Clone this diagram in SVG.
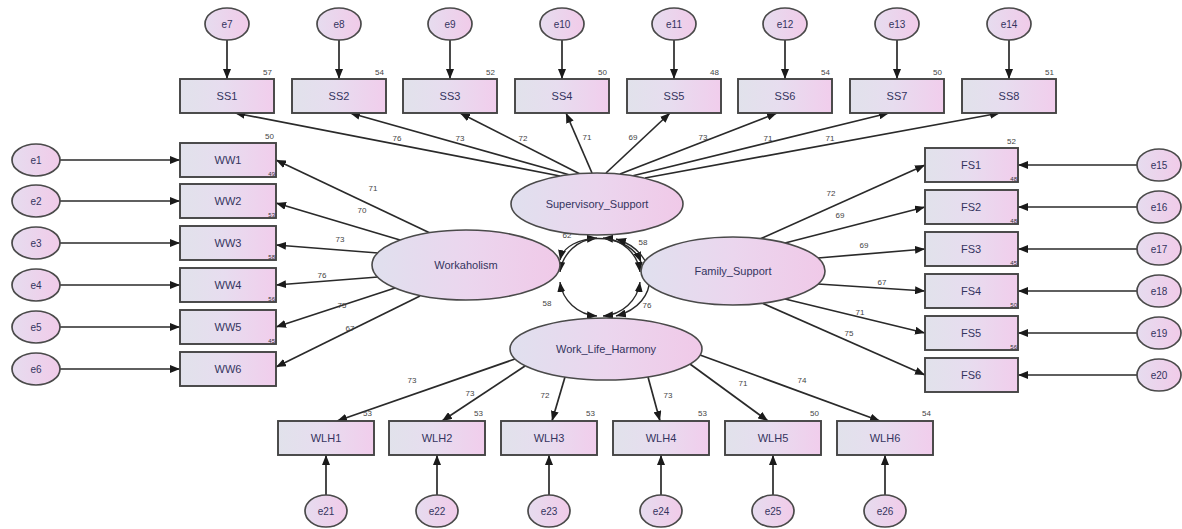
<svg xmlns="http://www.w3.org/2000/svg" width="1182" height="529" viewBox="0 0 1182 529">
<defs>
<linearGradient id="gbox" x1="0" y1="0" x2="1" y2="0">
<stop offset="0" stop-color="#e1e2eb"/><stop offset="0.45" stop-color="#e7ddef"/><stop offset="1" stop-color="#f1cdec"/>
</linearGradient>
<linearGradient id="gell" x1="0" y1="0" x2="1" y2="0">
<stop offset="0" stop-color="#e0e0ee"/><stop offset="0.5" stop-color="#ebd6ee"/><stop offset="1" stop-color="#f0c9e8"/>
</linearGradient>
<linearGradient id="gerr" x1="0" y1="0" x2="1" y2="0">
<stop offset="0" stop-color="#e6dcef"/><stop offset="1" stop-color="#f1cbe9"/>
</linearGradient>
<marker id="ah" viewBox="0 0 10 8" refX="10" refY="4" markerWidth="10" markerHeight="8" markerUnits="userSpaceOnUse" orient="auto-start-reverse">
<path d="M0,0 L10,4 L0,8 z" fill="#1a1a1a"/>
</marker>
</defs>
<style>
.box{fill:url(#gbox);stroke:#444;stroke-width:1.9}
.lat{fill:url(#gell);stroke:#4a4a4a;stroke-width:1.6}
.err{fill:url(#gerr);stroke:#4a4a4a;stroke-width:1.7}
.ln{stroke:#2a2a2a;stroke-width:1.7;fill:none;marker-end:url(#ah)}
.cv{stroke:#2a2a2a;stroke-width:1.4;fill:none;marker-end:url(#ah);marker-start:url(#ah)}
.t{font-family:"Liberation Sans",Arial,sans-serif;font-size:11px;fill:#34345e;text-anchor:middle;dominant-baseline:central}
.te{font-family:"Liberation Sans",Arial,sans-serif;font-size:10px;fill:#34345e;text-anchor:middle;dominant-baseline:central}
.n{font-family:"Liberation Sans",Arial,sans-serif;font-size:8px;fill:#444;text-anchor:middle;dominant-baseline:central}
.r{font-family:"Liberation Sans",Arial,sans-serif;font-size:8px;fill:#444;text-anchor:end}
.rs{font-family:"Liberation Sans",Arial,sans-serif;font-size:6px;fill:#333;text-anchor:end}
</style>
<rect width="1182" height="529" fill="#ffffff"/>

<g id="connectors">
<line class="ln" x1="227" y1="40" x2="227" y2="79"/>
<line class="ln" x1="339" y1="40" x2="339" y2="79"/>
<line class="ln" x1="450" y1="40" x2="450" y2="79"/>
<line class="ln" x1="562" y1="40" x2="562" y2="79"/>
<line class="ln" x1="674" y1="40" x2="674" y2="79"/>
<line class="ln" x1="785" y1="40" x2="785" y2="79"/>
<line class="ln" x1="897" y1="40" x2="897" y2="79"/>
<line class="ln" x1="1009" y1="40" x2="1009" y2="79"/>
<line class="ln" x1="60" y1="160" x2="180" y2="160"/>
<line class="ln" x1="60" y1="201" x2="180" y2="201"/>
<line class="ln" x1="60" y1="243" x2="180" y2="243"/>
<line class="ln" x1="60" y1="285" x2="180" y2="285"/>
<line class="ln" x1="60" y1="327" x2="180" y2="327"/>
<line class="ln" x1="60" y1="369" x2="180" y2="369"/>
<line class="ln" x1="1137" y1="165" x2="1018" y2="165"/>
<line class="ln" x1="1137" y1="207" x2="1018" y2="207"/>
<line class="ln" x1="1137" y1="249" x2="1018" y2="249"/>
<line class="ln" x1="1137" y1="291" x2="1018" y2="291"/>
<line class="ln" x1="1137" y1="333" x2="1018" y2="333"/>
<line class="ln" x1="1137" y1="375" x2="1018" y2="375"/>
<line class="ln" x1="326" y1="495" x2="326" y2="455"/>
<line class="ln" x1="437" y1="495" x2="437" y2="455"/>
<line class="ln" x1="549" y1="495" x2="549" y2="455"/>
<line class="ln" x1="661" y1="495" x2="661" y2="455"/>
<line class="ln" x1="773" y1="495" x2="773" y2="455"/>
<line class="ln" x1="885" y1="495" x2="885" y2="455"/>
<line class="ln" x1="560" y1="176" x2="235" y2="113"/>
<line class="ln" x1="570" y1="175" x2="350" y2="113"/>
<line class="ln" x1="580" y1="174" x2="460" y2="113"/>
<line class="ln" x1="592" y1="173" x2="566" y2="113"/>
<line class="ln" x1="606" y1="173" x2="670" y2="113"/>
<line class="ln" x1="620" y1="174" x2="777" y2="113"/>
<line class="ln" x1="632" y1="176" x2="889" y2="113"/>
<line class="ln" x1="645" y1="178" x2="1000" y2="113"/>
<line class="ln" x1="430" y1="233" x2="276" y2="160"/>
<line class="ln" x1="400" y1="240" x2="276" y2="203"/>
<line class="ln" x1="378" y1="253" x2="276" y2="245"/>
<line class="ln" x1="378" y1="277" x2="276" y2="285"/>
<line class="ln" x1="395" y1="288" x2="276" y2="327"/>
<line class="ln" x1="420" y1="296" x2="276" y2="367"/>
<line class="ln" x1="760" y1="239" x2="925" y2="165"/>
<line class="ln" x1="785" y1="243" x2="925" y2="207"/>
<line class="ln" x1="818" y1="258" x2="925" y2="249"/>
<line class="ln" x1="818" y1="284" x2="925" y2="291"/>
<line class="ln" x1="785" y1="299" x2="925" y2="333"/>
<line class="ln" x1="762" y1="303" x2="925" y2="375"/>
<line class="ln" x1="515" y1="359" x2="337" y2="421"/>
<line class="ln" x1="525" y1="366" x2="442" y2="421"/>
<line class="ln" x1="565" y1="377" x2="552" y2="421"/>
<line class="ln" x1="648" y1="377" x2="660" y2="421"/>
<line class="ln" x1="690" y1="364" x2="768" y2="421"/>
<line class="ln" x1="700" y1="355" x2="880" y2="421"/>
<!-- covariances -->
<path class="cv" d="M560,272 A40,39 0 0 1 597,238"/>
<path class="cv" d="M603,238 A40,39 0 0 1 640,272"/>
<path class="cv" d="M640,282 A40,39 0 0 1 603,316"/>
<path class="cv" d="M597,316 A40,39 0 0 1 560,282"/>
<path class="cv" d="M560,260 C566,232 628,230 641,262"/>
<path class="cv" d="M616,239 C660,252 662,304 616,316"/>
<text class="n" x="567" y="235">62</text>
<text class="n" x="643" y="242">58</text>
<text class="n" x="547" y="303">58</text>
<text class="n" x="647" y="305">76</text>
<text class="n" x="397" y="138">76</text>
<text class="n" x="460" y="138">73</text>
<text class="n" x="523" y="138">72</text>
<text class="n" x="587" y="137">71</text>
<text class="n" x="633" y="137">69</text>
<text class="n" x="703" y="137">73</text>
<text class="n" x="768" y="138">71</text>
<text class="n" x="830" y="138">71</text>
<text class="n" x="373" y="188">71</text>
<text class="n" x="362" y="210">70</text>
<text class="n" x="340" y="239">73</text>
<text class="n" x="322" y="275">76</text>
<text class="n" x="342" y="305">75</text>
<text class="n" x="350" y="328">67</text>
<text class="n" x="831" y="193">72</text>
<text class="n" x="840" y="215">69</text>
<text class="n" x="864" y="245">69</text>
<text class="n" x="882" y="282">67</text>
<text class="n" x="860" y="312">71</text>
<text class="n" x="849" y="333">75</text>
<text class="n" x="412" y="380">73</text>
<text class="n" x="470" y="393">73</text>
<text class="n" x="545" y="395">72</text>
<text class="n" x="668" y="395">73</text>
<text class="n" x="743" y="383">71</text>
<text class="n" x="802" y="380">74</text>
</g>

<g id="latent-supervisory"><ellipse class="lat" cx="597" cy="204" rx="86" ry="31"/><text class="t" x="597" y="204">Supervisory_Support</text></g>
<g id="latent-workaholism"><ellipse class="lat" cx="466" cy="265" rx="94" ry="35"/><text class="t" x="466" y="265">Workaholism</text></g>
<g id="latent-family"><ellipse class="lat" cx="733" cy="271" rx="92" ry="34"/><text class="t" x="733" y="271">Family_Support</text></g>
<g id="latent-wlh"><ellipse class="lat" cx="606" cy="349" rx="96" ry="31"/><text class="t" x="606" y="349">Work_Life_Harmony</text></g>

<g id="SS1"><rect class="box" x="180" y="79" width="94" height="34"/><text class="t" x="227" y="96">SS1</text><text class="r" x="272" y="75">57</text></g>
<g id="SS2"><rect class="box" x="292" y="79" width="94" height="34"/><text class="t" x="339" y="96">SS2</text><text class="r" x="384" y="75">54</text></g>
<g id="SS3"><rect class="box" x="403" y="79" width="94" height="34"/><text class="t" x="450" y="96">SS3</text><text class="r" x="495" y="75">52</text></g>
<g id="SS4"><rect class="box" x="515" y="79" width="94" height="34"/><text class="t" x="562" y="96">SS4</text><text class="r" x="607" y="75">50</text></g>
<g id="SS5"><rect class="box" x="627" y="79" width="94" height="34"/><text class="t" x="674" y="96">SS5</text><text class="r" x="719" y="75">48</text></g>
<g id="SS6"><rect class="box" x="738" y="79" width="94" height="34"/><text class="t" x="785" y="96">SS6</text><text class="r" x="830" y="75">54</text></g>
<g id="SS7"><rect class="box" x="850" y="79" width="94" height="34"/><text class="t" x="897" y="96">SS7</text><text class="r" x="942" y="75">50</text></g>
<g id="SS8"><rect class="box" x="962" y="79" width="94" height="34"/><text class="t" x="1009" y="96">SS8</text><text class="r" x="1054" y="75">51</text></g>

<g id="WW1"><rect class="box" x="180" y="143" width="96" height="34"/><text class="t" x="228" y="160">WW1</text><text class="r" x="274" y="139">50</text><text class="rs" x="275" y="176">49</text></g>
<g id="WW2"><rect class="box" x="180" y="184" width="96" height="34"/><text class="t" x="228" y="201">WW2</text><text class="rs" x="275" y="217">53</text></g>
<g id="WW3"><rect class="box" x="180" y="226" width="96" height="34"/><text class="t" x="228" y="243">WW3</text><text class="rs" x="275" y="259">58</text></g>
<g id="WW4"><rect class="box" x="180" y="268" width="96" height="34"/><text class="t" x="228" y="285">WW4</text><text class="rs" x="275" y="301">56</text></g>
<g id="WW5"><rect class="box" x="180" y="310" width="96" height="34"/><text class="t" x="228" y="327">WW5</text><text class="rs" x="275" y="343">45</text></g>
<g id="WW6"><rect class="box" x="180" y="352" width="96" height="34"/><text class="t" x="228" y="369">WW6</text></g>

<g id="FS1"><rect class="box" x="925" y="148" width="93" height="34"/><text class="t" x="971" y="165">FS1</text><text class="r" x="1016" y="144">52</text><text class="rs" x="1017" y="181">48</text></g>
<g id="FS2"><rect class="box" x="925" y="190" width="93" height="34"/><text class="t" x="971" y="207">FS2</text><text class="rs" x="1017" y="223">48</text></g>
<g id="FS3"><rect class="box" x="925" y="232" width="93" height="34"/><text class="t" x="971" y="249">FS3</text><text class="rs" x="1017" y="265">45</text></g>
<g id="FS4"><rect class="box" x="925" y="274" width="93" height="34"/><text class="t" x="971" y="291">FS4</text><text class="rs" x="1017" y="307">50</text></g>
<g id="FS5"><rect class="box" x="925" y="316" width="93" height="34"/><text class="t" x="971" y="333">FS5</text><text class="rs" x="1017" y="349">56</text></g>
<g id="FS6"><rect class="box" x="925" y="358" width="93" height="34"/><text class="t" x="971" y="375">FS6</text></g>

<g id="WLH1"><rect class="box" x="278" y="421" width="96" height="34"/><text class="t" x="326" y="438">WLH1</text><text class="r" x="372" y="416">53</text></g>
<g id="WLH2"><rect class="box" x="389" y="421" width="96" height="34"/><text class="t" x="437" y="438">WLH2</text><text class="r" x="483" y="416">53</text></g>
<g id="WLH3"><rect class="box" x="501" y="421" width="96" height="34"/><text class="t" x="549" y="438">WLH3</text><text class="r" x="595" y="416">53</text></g>
<g id="WLH4"><rect class="box" x="613" y="421" width="96" height="34"/><text class="t" x="661" y="438">WLH4</text><text class="r" x="707" y="416">53</text></g>
<g id="WLH5"><rect class="box" x="725" y="421" width="96" height="34"/><text class="t" x="773" y="438">WLH5</text><text class="r" x="819" y="416">50</text></g>
<g id="WLH6"><rect class="box" x="837" y="421" width="96" height="34"/><text class="t" x="885" y="438">WLH6</text><text class="r" x="931" y="416">54</text></g>

<g id="e7"><ellipse class="err" cx="227" cy="24" rx="22" ry="16"/><text class="te" x="227" y="24">e7</text></g>
<g id="e8"><ellipse class="err" cx="339" cy="24" rx="22" ry="16"/><text class="te" x="339" y="24">e8</text></g>
<g id="e9"><ellipse class="err" cx="450" cy="24" rx="22" ry="16"/><text class="te" x="450" y="24">e9</text></g>
<g id="e10"><ellipse class="err" cx="562" cy="24" rx="22" ry="16"/><text class="te" x="562" y="24">e10</text></g>
<g id="e11"><ellipse class="err" cx="674" cy="24" rx="22" ry="16"/><text class="te" x="674" y="24">e11</text></g>
<g id="e12"><ellipse class="err" cx="785" cy="24" rx="22" ry="16"/><text class="te" x="785" y="24">e12</text></g>
<g id="e13"><ellipse class="err" cx="897" cy="24" rx="22" ry="16"/><text class="te" x="897" y="24">e13</text></g>
<g id="e14"><ellipse class="err" cx="1009" cy="24" rx="22" ry="16"/><text class="te" x="1009" y="24">e14</text></g>

<g id="e1"><ellipse class="err" cx="36" cy="160" rx="24" ry="16"/><text class="te" x="36" y="160">e1</text></g>
<g id="e2"><ellipse class="err" cx="36" cy="201" rx="24" ry="16"/><text class="te" x="36" y="201">e2</text></g>
<g id="e3"><ellipse class="err" cx="36" cy="243" rx="24" ry="16"/><text class="te" x="36" y="243">e3</text></g>
<g id="e4"><ellipse class="err" cx="36" cy="285" rx="24" ry="16"/><text class="te" x="36" y="285">e4</text></g>
<g id="e5"><ellipse class="err" cx="36" cy="327" rx="24" ry="16"/><text class="te" x="36" y="327">e5</text></g>
<g id="e6"><ellipse class="err" cx="36" cy="369" rx="24" ry="16"/><text class="te" x="36" y="369">e6</text></g>

<g id="e15"><ellipse class="err" cx="1159" cy="165" rx="22" ry="16"/><text class="te" x="1159" y="165">e15</text></g>
<g id="e16"><ellipse class="err" cx="1159" cy="207" rx="22" ry="16"/><text class="te" x="1159" y="207">e16</text></g>
<g id="e17"><ellipse class="err" cx="1159" cy="249" rx="22" ry="16"/><text class="te" x="1159" y="249">e17</text></g>
<g id="e18"><ellipse class="err" cx="1159" cy="291" rx="22" ry="16"/><text class="te" x="1159" y="291">e18</text></g>
<g id="e19"><ellipse class="err" cx="1159" cy="333" rx="22" ry="16"/><text class="te" x="1159" y="333">e19</text></g>
<g id="e20"><ellipse class="err" cx="1159" cy="375" rx="22" ry="16"/><text class="te" x="1159" y="375">e20</text></g>

<g id="e21"><ellipse class="err" cx="326" cy="511" rx="21" ry="16"/><text class="te" x="326" y="511">e21</text></g>
<g id="e22"><ellipse class="err" cx="437" cy="511" rx="21" ry="16"/><text class="te" x="437" y="511">e22</text></g>
<g id="e23"><ellipse class="err" cx="549" cy="511" rx="21" ry="16"/><text class="te" x="549" y="511">e23</text></g>
<g id="e24"><ellipse class="err" cx="661" cy="511" rx="21" ry="16"/><text class="te" x="661" y="511">e24</text></g>
<g id="e25"><ellipse class="err" cx="773" cy="511" rx="21" ry="16"/><text class="te" x="773" y="511">e25</text></g>
<g id="e26"><ellipse class="err" cx="885" cy="511" rx="21" ry="16"/><text class="te" x="885" y="511">e26</text></g>
</svg>
